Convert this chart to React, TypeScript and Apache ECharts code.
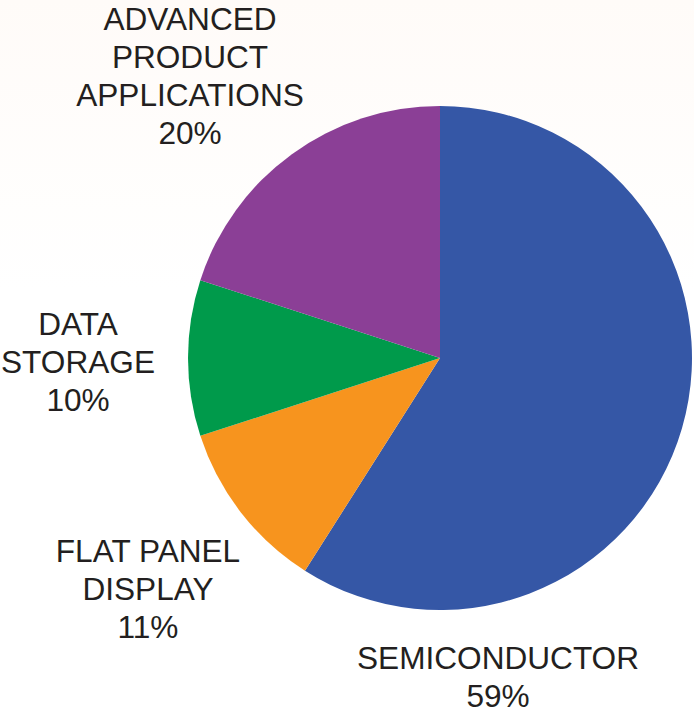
import React, { useEffect, useRef } from "react";
import * as echarts from "echarts";

const categories = [
  "SEMICONDUCTOR",
  "FLAT PANEL\nDISPLAY",
  "DATA\nSTORAGE",
  "ADVANCED\nPRODUCT\nAPPLICATIONS",
];
const shares = [59, 11, 10, 20];
const sliceColors = ["#3557A6", "#F7941E", "#009A4B", "#8B3F96"];
// label block centres (px), one per slice
const labelAnchors: [number, number][] = [
  [498, 677],
  [148, 589],
  [78, 362],
  [190, 76],
];

export default function App() {
  const ref = useRef<HTMLDivElement>(null);
  useEffect(() => {
    if (!ref.current) return;
    const chart = echarts.init(ref.current, null, { renderer: "svg" });
    chart.setOption({
      animation: false,
      backgroundColor: "#FFFFFF",
      graphic: [
        {
          type: "rect",
          z: -10,
          shape: { x: 0, y: 0, width: 694, height: 290 },
          style: {
            fill: new echarts.graphic.LinearGradient(0, 0, 0, 1, [
              { offset: 0, color: "#FFFBF8" },
              { offset: 1, color: "#FFFFFF" },
            ]),
          },
          silent: true,
        },
      ],
      series: [
        {
          type: "pie",
          center: [440, 358],
          radius: [0, 252],
          startAngle: 90,
          clockwise: true,
          silent: true,
          avoidLabelOverlap: false,
          itemStyle: { borderWidth: 0 },
          label: {
            show: true,
            position: "outside",
            overflow: "none",
            formatter: (p: any) => `${p.name}\n${p.value}%`,
            fontFamily: "Liberation Sans, Arial, Helvetica, sans-serif",
            fontSize: 31.6,
            lineHeight: 38,
            color: "#231F20",
            align: "center",
          },
          labelLine: { show: false },
          labelLayout: (params: any) => {
            const a = labelAnchors[params.dataIndex];
            return {
              x: a[0],
              y: a[1],
              align: "center",
              verticalAlign: "middle",
              hideOverlap: false,
              moveOverlap: false,
            };
          },
          data: categories.map((name, i) => ({
            name,
            value: shares[i],
            itemStyle: { color: sliceColors[i] },
          })),
        },
      ],
    });
    return () => chart.dispose();
  }, []);
  return (
    <div
      ref={ref}
      style={{ position: "fixed", left: 0, top: 0, width: 694, height: 713 }}
    />
  );
}
